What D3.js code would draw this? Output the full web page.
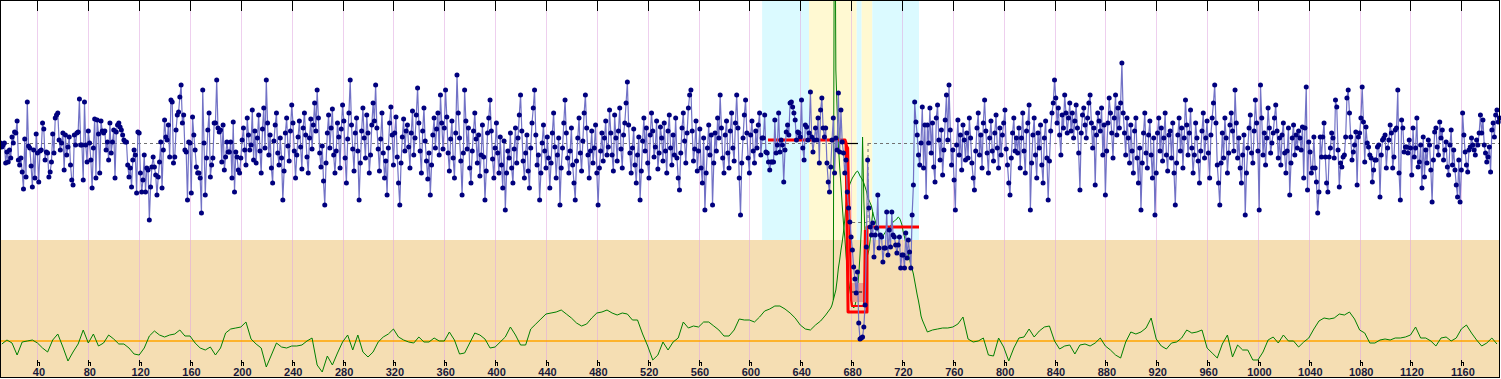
<!DOCTYPE html>
<html><head><meta charset="utf-8">
<script src="https://cdn.jsdelivr.net/npm/d3@7"></script>
<style>html,body{margin:0;padding:0;background:#fff;overflow:hidden}</style>
</head><body>
<svg id="chart" width="1501" height="379"></svg>
<script>
// ---------- data ----------
const xTicks = [40,80,120,160,200,240,280,320,360,400,440,480,520,560,600,640,680,720,760,800,840,880,920,960,1000,1040,1080,1120,1160];

// blue series: one value per x unit, starting at x = blueStart
const blueStart = 11;
const blueValues = [
0,-4,-2,0,-20,-9,-19,-7,-15,6,0,11,10,22,-17,-22,-15,-29,-46,4,-34,41,-3,-5,-23,-44,-7,-35,9,-10,-39,-8,-7,20,14,-17,-9,-10,-34,-29,
-19,9,-10,25,28,30,3,-7,0,10,-27,8,-12,-4,6,-22,-37,-42,8,-2,10,11,44,-2,-2,-37,41,-2,-19,12,0,-17,-45,-5,24,-35,23,9,-30,22,
12,10,12,-7,1,-17,20,-10,1,13,-35,11,18,20,16,13,8,3,1,1,-22,-34,-25,-44,-17,-7,-12,-50,11,10,-30,-49,-37,-12,-49,-25,-27,-77,-44,-24,
-14,-24,-32,-52,-34,-19,1,-45,-7,23,6,3,18,-14,43,41,-20,-14,13,28,31,46,58,20,28,-7,-9,-57,1,0,-50,26,8,-7,-24,-30,-30,-35,-70,53,
0,-52,-15,13,30,-34,-22,-15,20,20,63,15,11,13,-19,18,-27,-14,1,-9,-9,1,-35,21,-49,-9,-14,-27,-30,-15,3,15,-7,-22,25,8,-7,-2,33,-17,
12,-20,5,28,-8,-30,14,35,-5,63,20,-12,8,-25,-40,2,18,30,-10,-22,5,-15,-57,-28,10,25,-3,-18,12,38,20,-8,-35,-12,6,22,-4,-26,15,30,
8,-14,-30,5,24,-6,18,40,12,53,25,-10,-24,-3,-38,-62,-20,10,28,-5,15,34,-12,-30,-8,20,6,-25,14,38,22,-15,-40,4,30,63,18,-6,-28,10,
25,-8,-57,-20,12,35,5,-15,28,10,-30,-12,18,40,22,58,15,-6,-28,4,30,-10,-35,-18,-52,-5,20,36,8,-22,10,26,-14,-40,-62,-20,6,24,-8,12,
18,-4,-25,10,32,-12,5,28,55,20,-8,-30,12,35,2,-18,-36,-10,-52,-22,8,25,-5,14,30,-12,48,20,-6,15,53,26,-10,-28,4,22,-15,-35,10,68,
30,5,-18,-52,-10,53,22,-6,15,-25,-40,-8,12,30,4,-20,8,-33,-12,18,-14,-57,-28,10,25,43,12,-16,-35,-5,20,-10,-30,6,-22,-45,2,-67,-30,-8,
-15,10,-25,-40,-6,15,-20,5,28,48,12,-18,-35,-10,8,-28,-45,-5,20,35,53,8,-22,-12,-57,-30,0,18,-8,-25,6,-15,-45,-20,10,30,-4,-35,-12,5,
-62,-25,-5,20,43,10,-15,-30,-8,15,-22,-40,-57,-18,5,25,-10,-28,2,30,48,15,-12,-35,-8,12,-20,-5,18,-30,-62,-25,-8,10,-18,5,22,-12,-4,33,
10,-12,-28,28,5,-18,12,35,-6,-25,8,20,40,61,18,-10,-30,-5,14,-22,-40,-12,6,-57,-28,2,25,-8,15,-20,-35,8,30,12,-14,-4,22,-26,-10,16,
5,-18,20,-8,-30,12,28,-5,-22,8,-12,25,-15,-35,-47,-10,15,30,2,-20,10,35,48,53,12,-18,-6,22,-28,-8,14,-25,-40,5,-67,-30,-5,18,-12,8,
-62,-20,10,-8,25,5,48,15,-15,-30,8,22,-10,-25,12,30,-5,-18,20,48,15,-35,-72,-20,5,28,43,10,-15,-30,8,22,-8,-20,12,-5,18,30,-12,5,
5,28,-9,-10,-19,-27,-19,-19,-19,23,-10,-2,30,-9,3,-2,-39,-7,11,18,8,40,41,36,30,23,3,11,10,6,43,-5,-17,18,16,3,10,51,6,-9,
3,15,3,25,-20,33,45,15,6,15,-20,-39,-49,-24,3,25,-30,5,-7,50,-9,33,1,-10,-30,-17,-49,-65,-79,-94,-107,-124,-136,-150,-129,-180,-196,-195,-194,-184,
-162,-104,-17,-65,-84,-92,-80,-114,-92,-85,-52,-105,-92,-94,-119,-105,-105,-69,-112,-87,-104,-69,-92,-94,-102,-110,-102,-94,-125,-112,-112,-125,-90,-115,-97,-109,-125,-72,-42,41,
21,8,-12,-22,0,36,-25,18,-54,18,0,35,-10,20,-24,-39,25,38,3,-17,13,-32,-7,23,48,3,58,13,-22,-7,-37,-67,-2,23,-12,8,-27,18,3,-17,
10,-15,25,5,-20,-35,-47,-8,15,30,-12,8,-25,20,43,12,-10,-30,5,22,-8,-18,10,28,-5,-25,15,-12,8,20,33,-6,-22,-40,-52,-15,10,25,-8,5,
-10,15,-25,5,30,-8,-30,12,20,38,-67,-20,8,25,-12,-35,10,-5,18,-22,-40,5,22,-15,-57,-18,12,30,40,63,45,20,35,8,-12,28,15,48,30,10,
25,40,12,30,5,22,38,15,-10,-47,10,28,35,18,5,25,40,48,20,-5,15,-42,8,30,22,12,35,-12,18,-52,-8,20,45,30,10,-15,25,48,8,35,
15,40,80,30,10,-12,25,5,-20,18,-8,-30,12,25,-15,-40,-5,-67,-20,10,30,-10,-25,8,22,-12,-35,5,-72,-30,10,25,-8,15,-18,5,30,-12,-28,8,
12,-15,20,-30,-62,-20,8,25,-8,15,-25,5,43,18,-12,10,33,-5,-30,-12,20,5,-18,-40,-8,12,30,-15,5,22,-10,-35,8,25,40,58,20,-22,-40,-62,
-20,10,-15,25,5,-30,-10,18,30,12,-8,53,20,-15,5,-25,-40,-12,8,-72,-30,-5,15,28,-10,-20,12,43,20,-8,-67,58,25,-12,10,-22,5,35,15,-10,
0,10,25,38,12,-15,5,-22,8,20,-10,-30,-8,15,-52,-20,5,18,-12,8,-5,12,5,-7,16,-35,15,56,-47,1,-9,-30,-25,6,-25,-39,-70,-49,6,-14,
6,20,-14,-40,-49,-14,-5,10,5,-15,43,36,-7,-44,-20,-24,-14,-12,6,45,53,30,6,-17,-9,-2,11,-42,6,10,25,56,21,-19,16,0,-4,-12,-15,-39,
-27,-17,-17,-4,-2,-54,-12,3,5,8,-25,-5,3,18,10,-25,-14,13,15,53,-30,-57,23,15,-9,-4,-4,-10,3,-5,-32,15,-14,-5,25,-24,-19,-2,-45,6,
-34,-7,-20,3,-2,-27,-59,-17,11,15,-4,-12,21,5,13,-17,-7,1,-24,-32,-2,13,-22,-7,-27,-42,-54,-17,-59,-27,30,8,-9,-22,-29,-7,-4,5,-2,-7,
-12,3,-2,10,28,10,23,-2,-10,-19,-14,-4,-29,13,20,6,28,33,21,25
];

// green statistic, part A: x = 12 + 4k
const greenAStart = 12, greenAStep = 4;
const greenA = [
-3,1,-2,-14,-1,0,1,-2,-7,-11,
1,7,-6,-20,-11,-3,11,-2,7,-5,
-2,6,2,-3,-3,-7,-13,-14,-7,5,
10,6,4,6,7,11,5,5,-2,-7,
-9,-6,-14,-7,8,12,13,14,19,2,
-3,-7,-26,-14,-2,-6,-7,-5,-5,-4,
0,3,-24,-31,-15,-24,-12,-1,6,-9,
6,-11,-16,-11,-1,4,7,12,4,1,
-1,-2,4,-1,-1,3,0,0,9,1,
-13,-12,-2,8,6,2,-7,-6,-1,4,
14,6,-4,-4,12,17,22,27,28,29,
31,27,23,18,15,17,23,28,29,31,
28,26,28,27,21,21,7,-5,-19,-14,
-1,-9,-1,3,19,13,15,14,19,19,
15,11,5,5,11,22,21,21,19,24,
30,32,35,35,32,28,23,16,12,11,
16,20,26,33
];
// part B (change region): x = 665 + k
const greenBStart = 665, greenBStep = 1;
const greenB = [
36,41,541,271,231,196,174,156,136,118,
104,86,71,60,51,43,36,33,35,41,
51,66,86,111,204,141,103,91,86,91,
101,116,129,124,120,115,111,107,105,104,
105,107,109,111,112,114,115,117,119,120,
121,122,124,123,120,116,109,104,98,92,
87,82,76,72,67,60,53,46,40,33,
25,21
];
// part C: x = 740 + 4k
const greenCStart = 740, greenCStep = 4;
const greenC = [
9,11,12,13,13,14,17,24,2,-1,
0,3,-14,-15,3,-6,-20,-7,3,4,
12,4,10,14,15,0,-8,-5,-4,-13,
-4,-3,-5,-2,3,-5,-9,-14,-17,-1,
9,7,9,13,23,2,-5,-8,-2,-1,
3,11,8,9,11,-7,-12,-17,-3,6,
-16,-4,-9,-9,-19,-19,-11,1,4,-2,
6,0,0,-6,-1,3,12,20,23,22,
23,27,26,29,22,11,8,-2,-2,1,
2,1,3,3,4,6,14,3,3,0,
-5,3,4,0,3,12,16,8,1,-5,
-2,3,-3
];
// second strand of the statistic in the change region: x = 666 + k
const greenHumpStart = 666, greenHumpStep = 1;
const greenHump = [
41,46,51,61,73,81,91,99,109,121,
136,146,152,157,160,163,165,167,169,170,
168,165,163,161,158,154,150,144,141,138,
135,129
];

// shaded segments
const regionFrom = [610.0, 646.9, 684.4, 688.3, 696.7];
const regionTo   = [646.9, 684.4, 688.3, 696.7, 733.4];
const regionKind = ['cyan','yellow','cyan','yellow','cyan'];

// fitted step (red)
const stepX  = [614.6, 675.2, 676.0, 677.6, 692.5, 692.5, 733.4];
const stepV  = [3, 3, 0, -169, -169, -84, -84];
const step2X = [674.4, 677.6, 680.0, 680.7, 690.2, 690.9];
const step2V = [2, -5, -157, -163, -163, -87];

// box of the low segment
const boxX = [680.0, 691.7];
const boxV = [-140, -159];
const boxMid = -149;

// reference levels
const meanLevel = 0;
const secondLevel = -79;
const meanBreak = [674.4, 693.3];
const blackSeg = [674.4, 685.4];
const greenBase = 0;

// ---------- drawing ----------
const W = 1501, H = 379;
const svg = d3.select('#chart');
const x = d3.scaleLinear().domain([10.54, 1190.4]).range([0, 1500]);
const y = d3.scaleLinear().domain([-234, 143]).range([377, 0]);
const g = d3.scaleLinear().domain([0, 100]).range([341, 241]);

const plotBottom = 377, lowerTop = 240;

svg.append('rect').attr('width', W).attr('height', H).attr('fill', '#ffffff');
svg.append('rect').attr('x', 0).attr('y', lowerTop).attr('width', 1500).attr('height', plotBottom - lowerTop).attr('fill', '#F5DEB3');

const regColors = {cyan: '#DBFAFF', yellow: '#FFF9D2'};
svg.append('g').selectAll('rect').data(regionFrom.map((f, i) => ({f, t: regionTo[i], k: regionKind[i]})))
  .join('rect')
  .attr('x', d => x(d.f)).attr('y', 0)
  .attr('width', d => x(d.t) - x(d.f)).attr('height', lowerTop)
  .attr('fill', d => regColors[d.k]);

// grid lines
svg.append('g').selectAll('line').data(xTicks).join('line')
  .attr('x1', d => Math.round(x(d)) + 0.5).attr('x2', d => Math.round(x(d)) + 0.5)
  .attr('y1', 11).attr('y2', 360)
  .attr('stroke', '#E0A8E0').attr('stroke-opacity', 0.55).attr('stroke-width', 1);

// orange base line for the statistic
svg.append('line').attr('x1', 0).attr('x2', 1500)
  .attr('y1', g(greenBase)).attr('y2', g(greenBase))
  .attr('stroke', '#FFA500').attr('stroke-width', 1.5);

// mean dashed lines
const dashG = svg.append('g').attr('stroke', '#707070').attr('stroke-width', 1).attr('stroke-dasharray', '3,3').attr('fill', 'none');
dashG.append('line').attr('x1', 0).attr('x2', x(meanBreak[0])).attr('y1', y(meanLevel) + 0.5).attr('y2', y(meanLevel) + 0.5);
dashG.append('line').attr('x1', x(meanBreak[1])).attr('x2', 1500).attr('y1', y(meanLevel) + 0.5).attr('y2', y(meanLevel) + 0.5);
dashG.append('line').attr('x1', x(meanBreak[1])).attr('x2', x(meanBreak[1])).attr('y1', y(meanLevel)).attr('y2', y(secondLevel));
dashG.append('line').attr('x1', x(676.1)).attr('x2', x(meanBreak[1])).attr('y1', y(secondLevel) + 0.5).attr('y2', y(secondLevel) + 0.5);
svg.append('line').attr('x1', x(blackSeg[0])).attr('x2', x(blackSeg[1]))
  .attr('y1', y(meanLevel) + 0.5).attr('y2', y(meanLevel) + 0.5)
  .attr('stroke', '#000').attr('stroke-width', 1.2);

// green statistic
const greenPts = [];
greenA.forEach((v, i) => greenPts.push([greenAStart + greenAStep * i, v]));
greenB.forEach((v, i) => greenPts.push([greenBStart + greenBStep * i, v]));
greenC.forEach((v, i) => greenPts.push([greenCStart + greenCStep * i, v]));
const humpPts = greenHump.map((v, i) => [greenHumpStart + greenHumpStep * i, v]);
const gLine = d3.line().x(d => x(d[0])).y(d => g(d[1]));
svg.append('path').attr('d', gLine(greenPts)).attr('fill', 'none').attr('stroke', '#008000').attr('stroke-width', 1);
svg.append('path').attr('d', gLine(humpPts)).attr('fill', 'none').attr('stroke', '#008000').attr('stroke-width', 1);

// box
svg.append('rect').attr('x', x(boxX[0])).attr('y', y(boxV[0]))
  .attr('width', x(boxX[1]) - x(boxX[0])).attr('height', y(boxV[1]) - y(boxV[0]))
  .attr('fill', '#EAA08C');
svg.append('line').attr('x1', x(boxX[0]) + 1).attr('x2', x(boxX[1]) - 1)
  .attr('y1', y(boxMid)).attr('y2', y(boxMid))
  .attr('stroke', '#000').attr('stroke-width', 1).attr('stroke-dasharray', '4,2');

// red step
const sLine = d3.line().x(d => x(d[0])).y(d => y(d[1]));
svg.append('path').attr('d', sLine(step2X.map((v, i) => [v, step2V[i]])))
  .attr('fill', 'none').attr('stroke', '#FF0000').attr('stroke-width', 2.2).attr('stroke-linejoin', 'round');
svg.append('path').attr('d', sLine(stepX.map((v, i) => [v, stepV[i]])))
  .attr('fill', 'none').attr('stroke', '#FF0000').attr('stroke-width', 3).attr('stroke-linejoin', 'round');

// blue series
const bluePts = blueValues.map((v, i) => [blueStart + i, v]);
svg.append('path').attr('d', sLine(bluePts)).attr('fill', 'none')
  .attr('stroke', '#7272C6').attr('stroke-width', 1.2);
svg.append('g').selectAll('circle').data(bluePts).join('circle')
  .attr('cx', d => x(d[0])).attr('cy', d => y(d[1])).attr('r', 2.5)
  .attr('fill', '#00007E');

// ticks
const tg = svg.append('g').attr('stroke', '#000').attr('stroke-width', 1).attr('fill', 'none').attr('shape-rendering', 'crispEdges');
xTicks.forEach(t => {
  const px = Math.round(x(t)) + 0.5;
  tg.append('line').attr('x1', px).attr('x2', px).attr('y1', 0).attr('y2', 11);
  tg.append('path').attr('d', `M${px},359.5V366M${px},362.5H${px + 2}V366`);
});
svg.append('g').selectAll('text').data(xTicks).join('text')
  .attr('x', d => x(d) + 1.5).attr('y', 376)
  .attr('text-anchor', 'middle')
  .attr('font-family', 'Liberation Sans, Arial, sans-serif')
  .attr('font-weight', 'bold').attr('font-size', 11)
  .attr('fill', '#1a1a3a')
  .text(d => d);

// border
svg.append('rect').attr('x', 0.5).attr('y', 0.5).attr('width', 1499).attr('height', 377)
  .attr('fill', 'none').attr('stroke', '#000').attr('stroke-width', 1).attr('shape-rendering', 'crispEdges');
</script>
</body></html>
